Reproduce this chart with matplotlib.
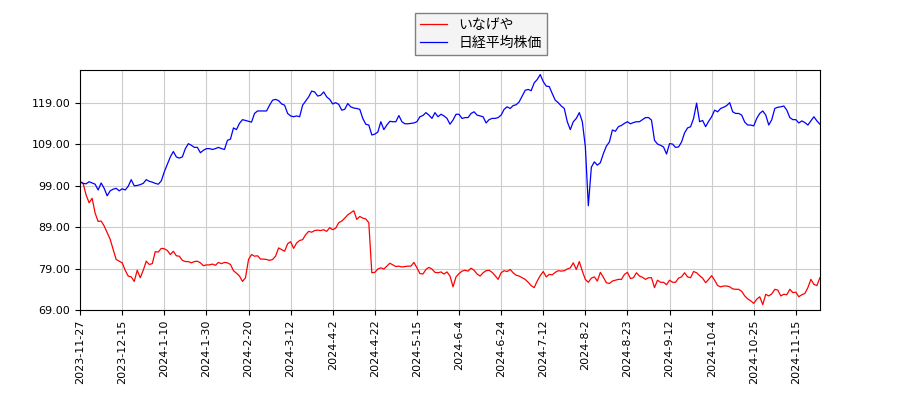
import matplotlib
matplotlib.use('Agg')
import matplotlib.pyplot as plt
import numpy as np

plt.rcParams['font.family'] = ['Noto Sans CJK JP', 'DejaVu Sans']

# trading-day index series (normalised to 100 at start)
inageya = [
    100.0, 99.6, 96.8, 94.9, 96.0, 92.4, 90.4, 90.5, 89.3, 87.7,
    86.1, 83.6, 81.2, 80.8, 80.4, 78.6, 77.2, 77.0, 75.9, 78.6,
    76.8, 78.6, 80.8, 80.0, 80.2, 83.1, 83.0, 83.9, 83.8, 83.4,
    82.4, 83.2, 82.1, 82.0, 81.0, 80.7, 80.7, 80.4, 80.7, 80.8,
    80.4, 79.7, 79.9, 79.9, 80.1, 79.8, 80.5, 80.2, 80.5, 80.4,
    80.0, 78.5, 77.9, 77.2, 75.9, 76.8, 81.2, 82.4, 82.0, 82.1,
    81.3, 81.3, 81.2, 81.0, 81.2, 82.0, 84.0, 83.6, 83.2, 85.0,
    85.5, 83.9, 85.2, 85.8, 86.0, 87.2, 88.0, 87.8, 88.2, 88.3,
    88.2, 88.4, 88.0, 88.9, 88.4, 88.8, 90.1, 90.5, 91.2, 92.0,
    92.5, 93.0, 90.9, 91.6, 91.2, 91.0, 90.1, 78.0, 78.1, 78.9,
    79.2, 78.9, 79.6, 80.3, 79.9, 79.5, 79.6, 79.4, 79.5, 79.6,
    79.6, 80.5, 79.2, 77.8, 77.7, 78.8, 79.3, 78.9, 78.1, 78.0,
    78.2, 77.7, 78.2, 77.2, 74.6, 77.0, 77.8, 78.4, 78.6, 78.4,
    79.1, 78.6, 77.7, 77.2, 78.0, 78.5, 78.6, 78.1, 77.3, 76.4,
    78.0, 78.5, 78.3, 78.8, 78.0, 77.4, 77.2, 76.8, 76.4, 75.7,
    74.9, 74.4, 76.0, 77.3, 78.3, 77.0, 77.6, 77.5, 78.1, 78.5,
    78.4, 78.5, 78.9, 79.2, 80.4, 78.8, 80.7, 78.4, 76.4, 75.7,
    76.7, 77.0, 76.0, 78.1, 76.9, 75.6, 75.4, 76.0, 76.2, 76.4,
    76.4, 77.6, 78.1, 76.6, 76.8, 78.0, 77.2, 76.9, 76.4, 76.8,
    76.8, 74.4, 76.2, 75.7, 75.7, 75.1, 76.2, 75.7, 75.7, 76.7,
    77.0, 78.0, 77.0, 76.8, 78.3, 78.0, 77.3, 76.7, 75.6, 76.4,
    77.3, 76.2, 74.9, 74.6, 74.8, 74.8, 74.6, 74.1, 74.0, 74.0,
    73.5, 72.4, 71.7, 71.2, 70.6, 71.6, 72.2, 70.3, 72.8, 72.4,
    72.9, 74.0, 73.8, 72.4, 72.8, 72.7, 74.0, 73.2, 73.3, 72.2,
    72.7, 73.0, 74.4, 76.4, 75.2, 74.9, 76.8,
]
nikkei = [
    100.0, 99.6, 99.5, 100.0, 99.7, 99.4, 98.0, 99.7, 98.4, 96.6,
    97.8, 98.2, 98.4, 97.8, 98.3, 98.0, 98.9, 100.5, 99.0, 99.1,
    99.3, 99.6, 100.5, 100.1, 99.9, 99.6, 99.4, 100.2, 102.4, 104.2,
    106.0, 107.3, 106.0, 105.7, 106.0, 108.0, 109.2, 108.8, 108.3, 108.3,
    107.0, 107.6, 108.0, 108.0, 107.8, 108.0, 108.3, 108.0, 107.8, 110.0,
    110.3, 113.0, 112.6, 114.1, 115.0, 114.8, 114.6, 114.4, 116.5, 117.1,
    117.1, 117.1, 117.1, 118.5, 119.7, 119.9, 119.6, 118.8, 118.5, 116.5,
    115.9, 115.7, 115.9, 115.7, 118.5, 119.5, 120.5, 121.9, 121.7, 120.7,
    120.9, 121.7, 120.5, 119.9, 118.8, 119.1, 118.7, 117.3, 117.5, 118.9,
    118.1, 117.8, 117.7, 117.5, 115.3, 113.9, 113.7, 111.3, 111.5, 112.0,
    114.5, 112.6, 113.7, 114.6, 114.5, 114.5, 116.0, 114.5, 114.0, 114.0,
    114.1, 114.2, 114.5, 115.7, 116.0, 116.7, 116.1, 115.3, 116.7, 115.7,
    116.3, 115.9, 115.3, 113.9, 114.9, 116.3, 116.3, 115.3, 115.5, 115.5,
    116.5, 116.9, 116.1, 115.9, 115.7, 114.2, 115.0, 115.3, 115.3, 115.5,
    116.1, 117.5, 118.1, 117.7, 118.4, 118.6, 119.3, 120.7, 122.1, 122.3,
    122.0, 123.9, 124.7, 125.9, 124.2, 123.1, 123.0, 121.3, 119.7, 119.1,
    118.3, 117.7, 114.5, 112.6, 114.5, 115.3, 116.7, 114.5, 108.5, 94.2,
    103.5, 104.8, 104.0, 104.6, 106.8, 108.6, 109.6, 112.5, 112.2, 113.3,
    113.6, 114.1, 114.5, 114.0, 114.3, 114.5, 114.5, 115.0, 115.5, 115.5,
    114.9, 110.0, 109.1, 108.8, 108.4, 106.7, 109.2, 109.1, 108.3, 108.4,
    109.6, 111.8, 113.0, 113.3, 115.3, 119.0, 114.5, 114.8, 113.3, 114.6,
    115.7, 117.3, 116.9, 117.7, 118.0, 118.4, 119.1, 116.9, 116.5, 116.5,
    116.1, 114.4, 113.7, 113.7, 113.5, 115.3, 116.5, 117.1, 116.1, 113.7,
    115.0, 117.7, 118.0, 118.1, 118.3, 117.3, 115.5, 115.0, 115.0, 114.2,
    114.7, 114.3, 113.7, 114.7, 115.7, 114.7, 113.9,
]
tick_labels = [
    '2023-11-27', '2023-12-15', '2024-1-10', '2024-1-30', '2024-2-20',
    '2024-3-12', '2024-4-2', '2024-4-22', '2024-5-15', '2024-6-4',
    '2024-6-24', '2024-7-12', '2024-8-2', '2024-8-23', '2024-9-12',
    '2024-10-4', '2024-10-25', '2024-11-15',
]
tick_step = 14

x = np.arange(len(nikkei))

fig = plt.figure(figsize=(9, 4), dpi=100)
ax = fig.add_axes([0.089, 0.225, 0.822, 0.60])

ax.plot(x, inageya, color='red', linewidth=0.9, label='いなげや')
ax.plot(x, nikkei, color='blue', linewidth=0.9, label='日経平均株価')

ax.set_xlim(0, len(nikkei) - 1)
ax.set_ylim(69, 127)
ax.set_yticks(np.arange(69, 120, 10))
ax.set_yticklabels(['%.2f' % v for v in np.arange(69, 120, 10)], family='DejaVu Sans', fontsize=8)
ax.set_xticks(np.arange(len(tick_labels)) * tick_step)
ax.set_xticklabels(tick_labels, rotation=90, family='DejaVu Sans', fontsize=8)
ax.grid(True, color='#cccccc', linewidth=0.8)
ax.set_axisbelow(True)

fig.legend(loc='upper center', bbox_to_anchor=(0.534, 0.985), fontsize=10,
           fancybox=False, edgecolor='#808080', facecolor='#f4f4f4', framealpha=1.0,
           borderpad=0.35, labelspacing=0.3)

fig.savefig('out.png')
